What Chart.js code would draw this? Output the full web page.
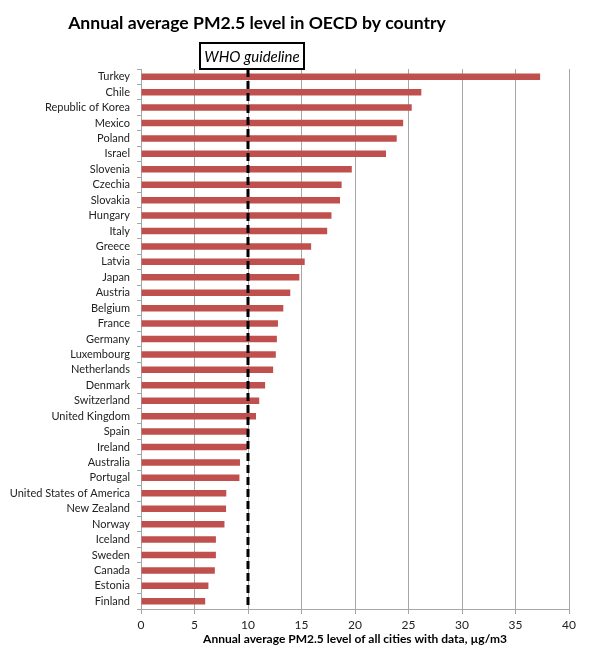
<!DOCTYPE html>
<html>
<head>
<meta charset="utf-8">
<script src="https://cdn.jsdelivr.net/npm/chart.js@4/dist/chart.umd.min.js"></script>
<style>
  body { margin: 0; background: #fff; }
  #wrap { width: 600px; height: 647px; }
</style>
</head>
<body>
<div id="wrap"><canvas id="grafico" width="600" height="647"></canvas></div>
<script>
// paises y niveles medios de PM2.5
const paises = ['Turkey', 'Chile', 'Republic of Korea', 'Mexico', 'Poland', 'Israel', 'Slovenia',
  'Czechia', 'Slovakia', 'Hungary', 'Italy', 'Greece', 'Latvia', 'Japan', 'Austria', 'Belgium',
  'France', 'Germany', 'Luxembourg', 'Netherlands', 'Denmark', 'Switzerland', 'United Kingdom',
  'Spain', 'Ireland', 'Australia', 'Portugal', 'United States of America', 'New Zealand',
  'Norway', 'Iceland', 'Sweden', 'Canada', 'Estonia', 'Finland']

const niveles = [37.3, 26.2, 25.3, 24.5, 23.9, 22.9, 19.7,
  18.75, 18.6, 17.8, 17.4, 15.9, 15.3, 14.8, 13.95, 13.3,
  12.8, 12.7, 12.6, 12.35, 11.6, 11.05, 10.75,
  10.1, 9.9, 9.25, 9.2, 7.97, 7.95,
  7.8, 7.0, 7.0, 6.9, 6.3, 6.0]

const ticksX = [0, 5, 10, 15, 20, 25, 30, 35, 40]
const guiaOMS = 10
const titulo = 'Annual average PM2.5 level in OECD by country'

const fuente = 'Lato, "Open Sans", sans-serif'

// titulo, linea discontinua y caja de la guia OMS
const pluginGuia = {
  id: 'guiaOMS',
  afterDatasetsDraw(chart) {
    const ctx = chart.ctx
    const x = chart.scales.x.getPixelForValue(guiaOMS)
    const area = chart.chartArea
    ctx.save()
    ctx.fillStyle = '#000'
    ctx.font = 'bold 17.6px ' + fuente
    ctx.textAlign = 'center'
    ctx.textBaseline = 'middle'
    ctx.fillText(titulo, 257, 23)

    ctx.strokeStyle = '#000'
    ctx.lineWidth = 3
    ctx.setLineDash([8, 4])
    ctx.beginPath()
    ctx.moveTo(x, area.top)
    ctx.lineTo(x, area.bottom)
    ctx.stroke()
    ctx.setLineDash([])

    const w = 104, h = 26
    const bx = x + 4 - w / 2
    const by = area.top - h
    ctx.fillStyle = '#fff'
    ctx.fillRect(bx, by, w, h)
    ctx.lineWidth = 2
    ctx.strokeRect(bx, by, w, h)
    ctx.fillStyle = '#000'
    ctx.font = 'italic 15px ' + fuente
    ctx.fillText('WHO guideline', bx + w / 2, by + h / 2 + 1)
    ctx.restore()
  }
}

const data = {
  labels: paises,
  datasets: [{
    label: 'PM2.5',
    data: niveles,
    backgroundColor: '#C0504D',
    borderWidth: 0,
    categoryPercentage: 1,
    barPercentage: 0.42
  }]
}

const config = {
  type: 'bar',
  data: data,
  options: {
    indexAxis: 'y',
    responsive: false,
    animation: false,
    layout: { padding: { left: 4, right: 31, top: 69, bottom: 0 } },
    plugins: {
      legend: { display: false },
      tooltip: { enabled: false },
      title: { display: false }
    },
    scales: {
      x: {
        min: 0,
        max: 40,
        afterBuildTicks: (axis) => { axis.ticks = ticksX.map(v => ({ value: v })) },
        afterFit: (axis) => { axis.height = 38 },
        grid: { color: '#a6a6a6', lineWidth: 1, tickLength: 5 },
        border: { color: '#a6a6a6' },
        ticks: { color: '#222', font: { family: fuente, size: 12 }, padding: 4 },
        title: {
          display: true,
          text: 'Annual average PM2.5 level of all cities with data, µg/m3',
          color: '#000',
          font: { family: fuente, size: 12, weight: 'bold' },
          padding: { top: 0, bottom: 1 }
        }
      },
      y: {
        offset: true,
        afterFit: (axis) => { axis.width = 137 },
        grid: { drawOnChartArea: false, color: '#a6a6a6', tickLength: 4, offset: true },
        border: { color: '#a6a6a6' },
        ticks: { color: '#222', font: { family: fuente, size: 11 }, padding: 7, autoSkip: false }
      }
    }
  },
  plugins: [pluginGuia]
}

const miGrafico = new Chart(document.getElementById('grafico'), config)
</script>
</body>
</html>
